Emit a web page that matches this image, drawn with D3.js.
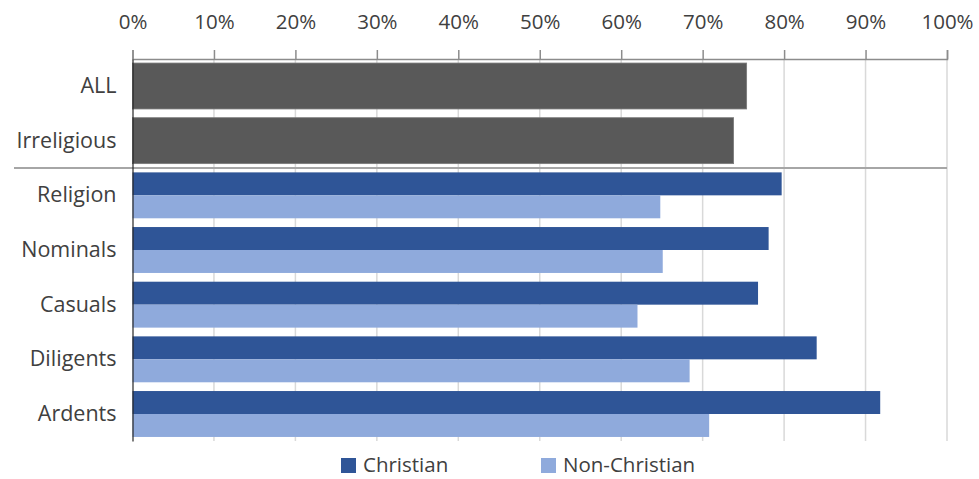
<!DOCTYPE html>
<html>
<head>
<meta charset="utf-8">
<script src="https://cdn.jsdelivr.net/npm/d3@7"></script>
<style>
  body { margin: 0; background: #fff; }
  text { font-family: "Open Sans", Lato, sans-serif; fill: #404040; }
</style>
</head>
<body>
<div id="chart"></div>
<script>
// data
var categories = ["ALL", "Irreligious", "Religion", "Nominals", "Casuals", "Diligents", "Ardents"];
var overallCats = ["ALL", "Irreligious"];
var overallValues = [75.4, 73.8];
var groupCats = ["Religion", "Nominals", "Casuals", "Diligents", "Ardents"];
var christian = [79.7, 78.1, 76.8, 84.0, 91.8];
var nonChristian = [64.8, 65.1, 62.0, 68.4, 70.8];
var tickValues = [0, 10, 20, 30, 40, 50, 60, 70, 80, 90, 100];
var seriesNames = ["Christian", "Non-Christian"];

var colors = {overall: "#595959", "Christian": "#2f5597", "Non-Christian": "#8faadc"};

// set the dimensions and margins of the graph
var margin = {top: 59, right: 32, bottom: 38, left: 132.5},
    width = 979 - margin.left - margin.right,
    height = 479 - margin.top - margin.bottom;

var svg = d3.select("#chart")
  .append("svg")
    .attr("width", 979)
    .attr("height", 479)
  .append("g")
    .attr("transform", "translate(" + margin.left + "," + margin.top + ")");

var x = d3.scaleLinear()
    .domain([0, 100])
    .range([0, width]);

var y = d3.scaleBand()
    .domain(categories)
    .range([0, height])
    .paddingInner(0.16)
    .paddingOuter(0.074);

// gridlines
svg.append("g")
  .selectAll("line")
  .data(tickValues.slice(1))
  .enter().append("line")
    .attr("x1", function(d) { return x(d); })
    .attr("x2", function(d) { return x(d); })
    .attr("y1", 0)
    .attr("y2", height)
    .attr("stroke", "#d9d9d9")
    .attr("stroke-width", 1.5);

// top axis
var xAxis = svg.append("g")
    .call(d3.axisTop(x).tickValues(tickValues).tickSize(9).tickPadding(21)
      .tickFormat(function(d) { return d + "%"; }));
xAxis.select(".domain").attr("stroke", "#8c8c8c").attr("stroke-width", 1.5);
xAxis.selectAll(".tick line").attr("stroke", "#8c8c8c").attr("stroke-width", 1.5);
xAxis.selectAll("text").style("font-size", "20.5px").attr("fill", "#404040");

// overall bars
svg.append("g")
  .selectAll("rect")
  .data(overallCats.map(function(c, i) { return {cat: c, value: overallValues[i]}; }))
  .enter().append("rect")
    .attr("x", x(0))
    .attr("y", function(d) { return y(d.cat); })
    .attr("width", function(d) { return x(d.value) - x(0); })
    .attr("height", y.bandwidth())
    .attr("fill", colors.overall)
    .attr("stroke", "#7a7a7a")
    .attr("stroke-width", 0.8);

// grouped bars
var ySub = d3.scaleBand()
    .domain(seriesNames)
    .range([0, y.bandwidth()])
    .padding(0);

var groupData = groupCats.map(function(c, i) {
  return {cat: c, values: [{key: "Christian", value: christian[i]}, {key: "Non-Christian", value: nonChristian[i]}]};
});

svg.append("g")
  .selectAll("g")
  .data(groupData)
  .enter().append("g")
    .attr("transform", function(d) { return "translate(0," + y(d.cat) + ")"; })
  .selectAll("rect")
  .data(function(d) { return d.values; })
  .enter().append("rect")
    .attr("x", x(0))
    .attr("y", function(d) { return ySub(d.key); })
    .attr("width", function(d) { return x(d.value) - x(0); })
    .attr("height", ySub.bandwidth())
    .attr("fill", function(d) { return colors[d.key]; });

// separator between overall and group rows
var sepY = (y("Irreligious") + y.bandwidth() + y("Religion")) / 2;
svg.append("line")
    .attr("x1", 14 - margin.left)
    .attr("x2", width)
    .attr("y1", sepY)
    .attr("y2", sepY)
    .attr("stroke", "#a6a6a6")
    .attr("stroke-width", 2);

// left axis
var yAxis = svg.append("g")
    .call(d3.axisLeft(y).tickSize(0).tickPadding(16));
yAxis.select(".domain").attr("stroke", "#262626").attr("stroke-width", 1.2);
yAxis.selectAll("text").style("font-size", "21.5px").attr("fill", "#404040");

// legend
var legend = d3.select("svg").append("g");
var legendX = [341, 541];
seriesNames.forEach(function(name, i) {
  legend.append("rect")
      .attr("x", legendX[i])
      .attr("y", 458)
      .attr("width", 15)
      .attr("height", 15)
      .attr("fill", colors[name]);
  legend.append("text")
      .attr("x", legendX[i] + 22)
      .attr("y", 465)
      .attr("dy", "0.35em")
      .style("font-size", "20.5px")
      .text(name);
});
</script>
</body>
</html>
